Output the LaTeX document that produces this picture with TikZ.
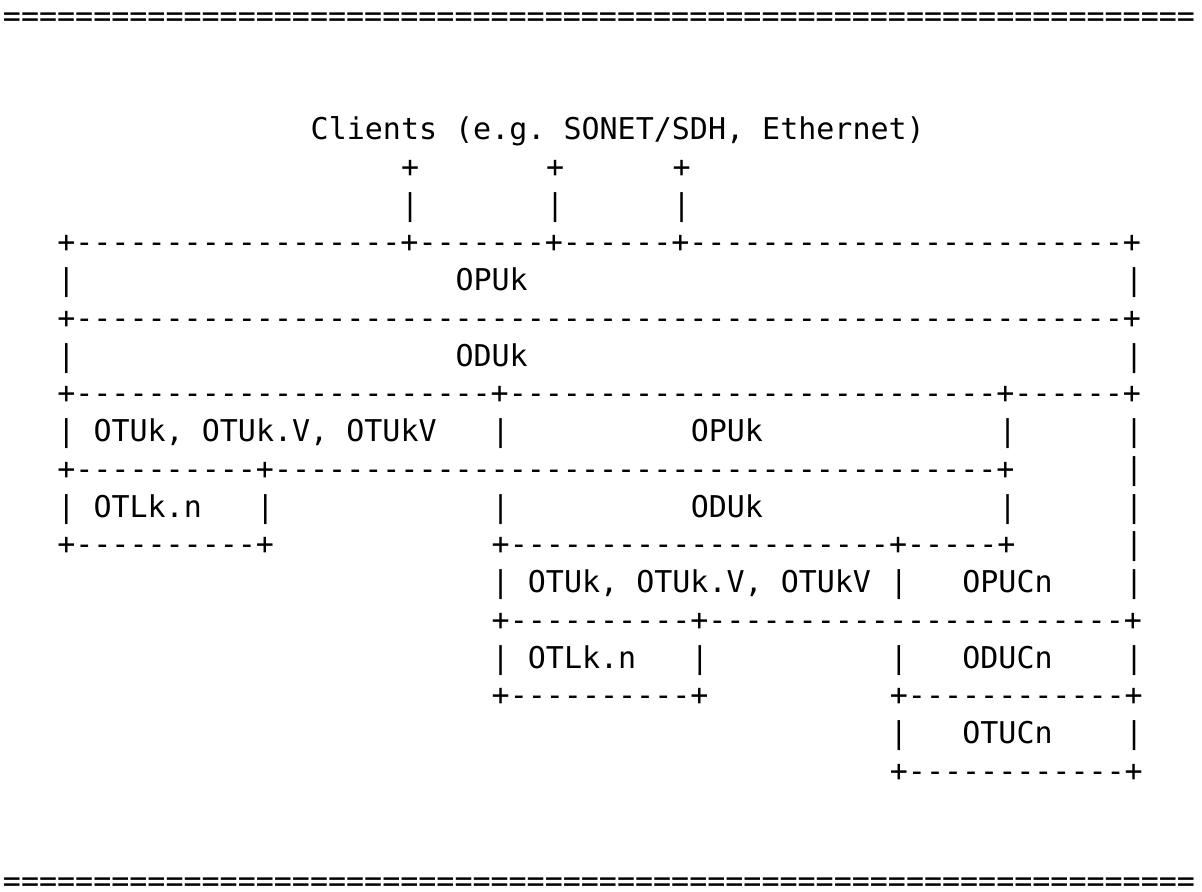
\documentclass[tikz,border=0pt]{standalone}
\usepackage{fontspec}
\setmonofont{DejaVu Sans Mono}
\tikzset{
  ascii/.style={font=\ttfamily\fontsize{15pt}{18pt}\selectfont,
    anchor=base west, inner sep=0pt, outer sep=0pt}
}
\begin{document}
\begin{tikzpicture}[x=9.05pt, y=-18.875pt]
  \useasboundingbox[fill=white] (0pt,0pt) rectangle (601pt,-446pt);
  \begin{scope}[shift={(1.5pt,-13.15pt)}, every node/.style={ascii}]
    % rules above and below
    \draw
      (0,0) node (ruletop){==================================================================}
      (0,23) node[yshift=1.6pt, text depth=0pt] (rulebot){==================================================================};
    % clients
    \draw
      (17,3) node (clients){Clients (e.g. SONET/SDH, Ethernet)}
      (22,4) node (c1){+}
      (30,4) node (c2){+}
      (37,4) node (c3){+}
      (22,5) node (l1){|}
      (30,5) node (l2){|}
      (37,5) node (l3){|};
    % outer stack
    \draw
      (3,6) node (b6){+------------------+-------+------+------------------------+}
      (3,7) node (v7a){|}
      (25,7) node (opuk){OPUk}
      (62,7) node (v7b){|}
      (3,8) node (b8){+----------------------------------------------------------+}
      (3,9) node (v9a){|}
      (25,9) node (oduk){ODUk}
      (62,9) node (v9b){|}
      (3,10) node (b10){+-----------------------+---------------------------+------+};
    % left branch
    \draw
      (3,11) node (v11a){|}
      (5,11) node (otuka){OTUk, OTUk.V, OTUkV}
      (27,11) node (v11b){|}
      (38,11) node (opuka){OPUk}
      (55,11) node (v11c){|}
      (62,11) node (v11d){|}
      (3,12) node (b12){+----------+----------------------------------------+}
      (62,12) node (v12){|}
      (3,13) node (v13a){|}
      (5,13) node (otlka){OTLk.n}
      (14,13) node (v13b){|}
      (27,13) node (v13c){|}
      (38,13) node (oduka){ODUk}
      (55,13) node (v13d){|}
      (62,13) node (v13e){|}
      (3,14) node (b14a){+----------+}
      (27,14) node (b14b){+---------------------+-----+}
      (62,14) node (v14){|};
    % right branch
    \draw
      (27,15) node (v15a){|}
      (29,15) node (otukb){OTUk, OTUk.V, OTUkV}
      (49,15) node (v15b){|}
      (53,15) node (opucn){OPUCn}
      (62,15) node (v15c){|}
      (27,16) node (b16){+----------+-----------------------+}
      (27,17) node (v17a){|}
      (29,17) node (otlkb){OTLk.n}
      (38,17) node (v17b){|}
      (49,17) node (v17c){|}
      (53,17) node (oducn){ODUCn}
      (62,17) node (v17d){|}
      (27,18) node (b18a){+----------+}
      (49,18) node (b18b){+------------+}
      (49,19) node (v19a){|}
      (53,19) node (otucn){OTUCn}
      (62,19) node (v19b){|}
      (49,20) node (b20){+------------+};
  \end{scope}
\end{tikzpicture}
\end{document}
